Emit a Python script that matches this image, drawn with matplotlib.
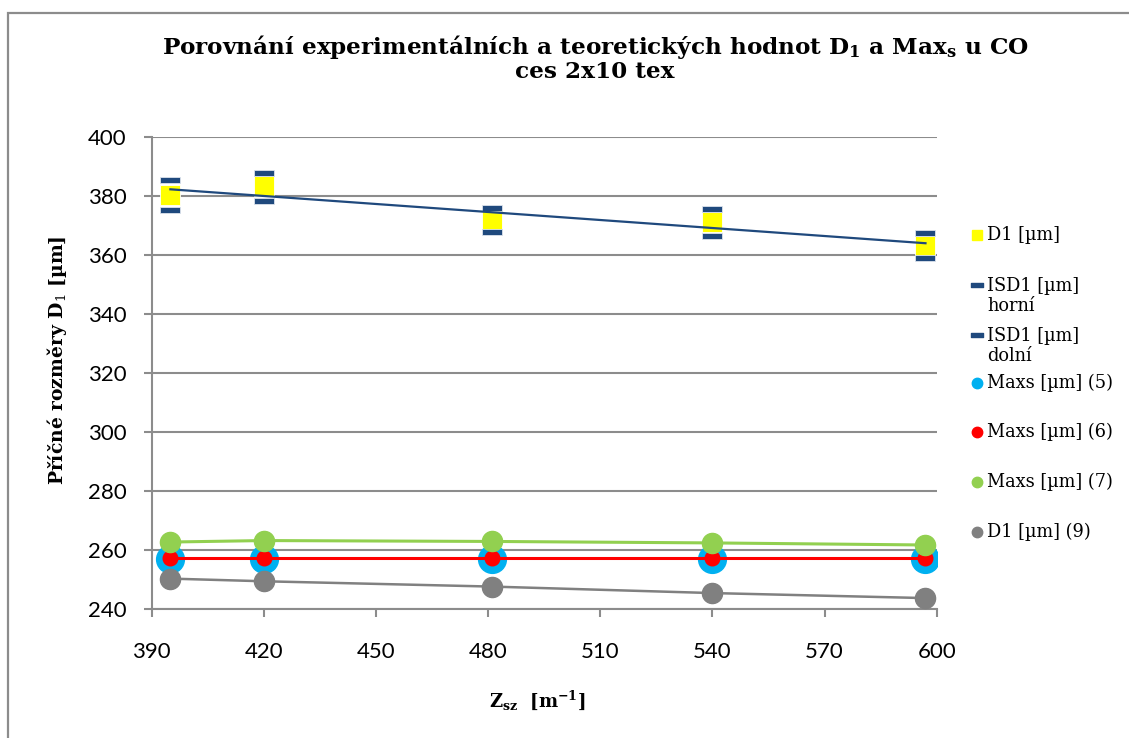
import numpy as np
import matplotlib
matplotlib.use("Agg")
import matplotlib.pyplot as plt
from matplotlib.lines import Line2D
from matplotlib.path import Path
from matplotlib.patches import Rectangle

# ---------------- data ----------------
x_vals = [395, 420, 481, 540, 597]
d1 = [380.2, 383.5, 371.7, 371.3, 363.2]
isd1_upper = [385.4, 387.9, 375.8, 375.5, 367.6]
isd1_lower = [375.2, 378.2, 367.9, 366.5, 358.9]
maxs5 = [257.1, 257.1, 257.1, 257.1, 257.1]
maxs6 = [257.4, 257.4, 257.4, 257.4, 257.4]
maxs7 = [262.7, 263.2, 262.9, 262.4, 261.7]
d1_9 = [250.3, 249.4, 247.6, 245.4, 243.7]

x_ticks = [390, 420, 450, 480, 510, 540, 570, 600]
y_ticks = [240, 260, 280, 300, 320, 340, 360, 380, 400]

legend_labels = ["D1 [µm]", "ISD1 [µm]\nhorní", "ISD1 [µm]\ndolní",
                 "Maxs [µm] (5)", "Maxs [µm] (6)", "Maxs [µm] (7)", "D1 [µm] (9)"]

# ---------------- style ----------------
plt.rcParams['mathtext.fontset'] = 'dejavuserif'
YELLOW = "#FFFF00"
DKBLUE = "#1F497D"
CYAN = "#00B0F0"
RED = "#FF0000"
GREEN = "#92D050"
GRAY = "#808080"
GRID = "#8C8C8C"

dash = Path([(-1, -0.33), (1, -0.33), (1, 0.33), (-1, 0.33), (-1, -0.33)],
            [Path.MOVETO, Path.LINETO, Path.LINETO, Path.LINETO, Path.CLOSEPOLY])

fig = plt.figure(figsize=(11.29, 7.38), dpi=100)
ax = fig.add_axes([151.7 / 1129, 1 - 609 / 738, (936.7 - 151.7) / 1129, (609 - 137) / 738])

# chart border
fig.add_artist(Rectangle((8 / 1129, -0.05), 1.2, 1 - 13 / 738 + 0.05, transform=fig.transFigure,
                         fill=False, edgecolor="#8C8C8C", linewidth=1.6))

# D1 points and ISD markers
ax.plot(x_vals, d1, linestyle="none", marker="s", markersize=14.5, markerfacecolor=YELLOW,
        markeredgecolor="white", markeredgewidth=0.6, zorder=3)
ax.plot(x_vals, isd1_upper, linestyle="none", marker=dash, markersize=14.5, markerfacecolor=DKBLUE,
        markeredgecolor="#DCE3EC", markeredgewidth=0.6, zorder=4)
ax.plot(x_vals, isd1_lower, linestyle="none", marker=dash, markersize=14.5, markerfacecolor=DKBLUE,
        markeredgecolor="#DCE3EC", markeredgewidth=0.6, zorder=4)
# linear trend of D1
coef = np.polyfit(x_vals, d1, 1)
xt = np.array([x_vals[0], x_vals[-1]])
ax.plot(xt, np.polyval(coef, xt), color=DKBLUE, linewidth=1.6, zorder=5)

# Maxs series
ax.plot(x_vals, maxs5, linestyle="none", marker="o", markersize=20, markerfacecolor=CYAN,
        markeredgecolor=CYAN, zorder=3)
ax.plot(x_vals, maxs6, color=RED, linewidth=2.2, marker="o", markersize=10.5,
        markerfacecolor=RED, markeredgecolor=RED, zorder=4)
ax.plot(x_vals, maxs7, color=GREEN, linewidth=2.2, marker="o", markersize=14.5,
        markerfacecolor=GREEN, markeredgecolor=GREEN, zorder=5)
ax.plot(x_vals, d1_9, color=GRAY, linewidth=1.8, marker="o", markersize=14.5,
        markerfacecolor=GRAY, markeredgecolor=GRAY, zorder=6)

ax.set_xlim(390, 600)
ax.set_ylim(240, 400)
ax.set_xticks(x_ticks)
ax.set_yticks(y_ticks)
ax.grid(axis="y", color=GRID, linewidth=1.5)
ax.set_axisbelow(True)
for s in ["top", "right"]:
    ax.spines[s].set_visible(False)
for s in ["left", "bottom"]:
    ax.spines[s].set_color(GRID)
    ax.spines[s].set_linewidth(1.5)
ax.tick_params(axis="both", direction="out", length=6, width=1.5, color=GRID, labelsize=16)
ax.tick_params(axis="x", pad=18)
ax.tick_params(axis="y", pad=12)
for lab in ax.get_xticklabels() + ax.get_yticklabels():
    lab.set_fontfamily("Lato")

# title and axis labels
fig.text(595 / 1129, 1 - 58 / 738,
         "Porovnání experimentálních a teoretických hodnot $\\mathbf{D}_\\mathbf{1}$ a Max$_\\mathbf{s}$ u CO\nces 2x10 tex",
         ha="center", va="center", fontsize=16.7, fontweight="bold", family="DejaVu Serif",
         linespacing=1.05)
fig.text(57 / 1129, 1 - 360 / 738, "Příčné rozměry $\\mathbf{D}_1$ [µm]", rotation=90,
         ha="center", va="center", fontsize=13.5, fontweight="bold", family="DejaVu Serif")
fig.text(537 / 1129, 1 - 700 / 738, "$\\mathbf{Z}_\\mathbf{sz}$  [m$^\\mathbf{-1}$]",
         ha="center", va="center", fontsize=13, fontweight="bold", family="DejaVu Serif")

# legend (manual)
leg_y = [235, 296, 346, 383, 432, 482, 532]
leg_style = [
    dict(marker="s", markersize=7, markerfacecolor=YELLOW, markeredgecolor=YELLOW),
    dict(marker=dash, markersize=8, markerfacecolor=DKBLUE, markeredgecolor=DKBLUE),
    dict(marker=dash, markersize=8, markerfacecolor=DKBLUE, markeredgecolor=DKBLUE),
    dict(marker="o", markersize=7.5, markerfacecolor=CYAN, markeredgecolor=CYAN),
    dict(marker="o", markersize=7.5, markerfacecolor=RED, markeredgecolor=RED),
    dict(marker="o", markersize=7.5, markerfacecolor=GREEN, markeredgecolor=GREEN),
    dict(marker="o", markersize=7.5, markerfacecolor=GRAY, markeredgecolor=GRAY),
]
for lbl, yy, st in zip(legend_labels, leg_y, leg_style):
    nlines = lbl.count("\n") + 1
    hy = yy - (nlines - 1) * 11.5
    fig.add_artist(Line2D([977 / 1129], [1 - hy / 738], linestyle="none",
                          transform=fig.transFigure, **st))
    fig.text(987 / 1129, 1 - yy / 738, lbl, ha="left", va="center", fontsize=12.8,
             family="DejaVu Serif", linespacing=1.1)

fig.savefig("out.png", dpi=100)
